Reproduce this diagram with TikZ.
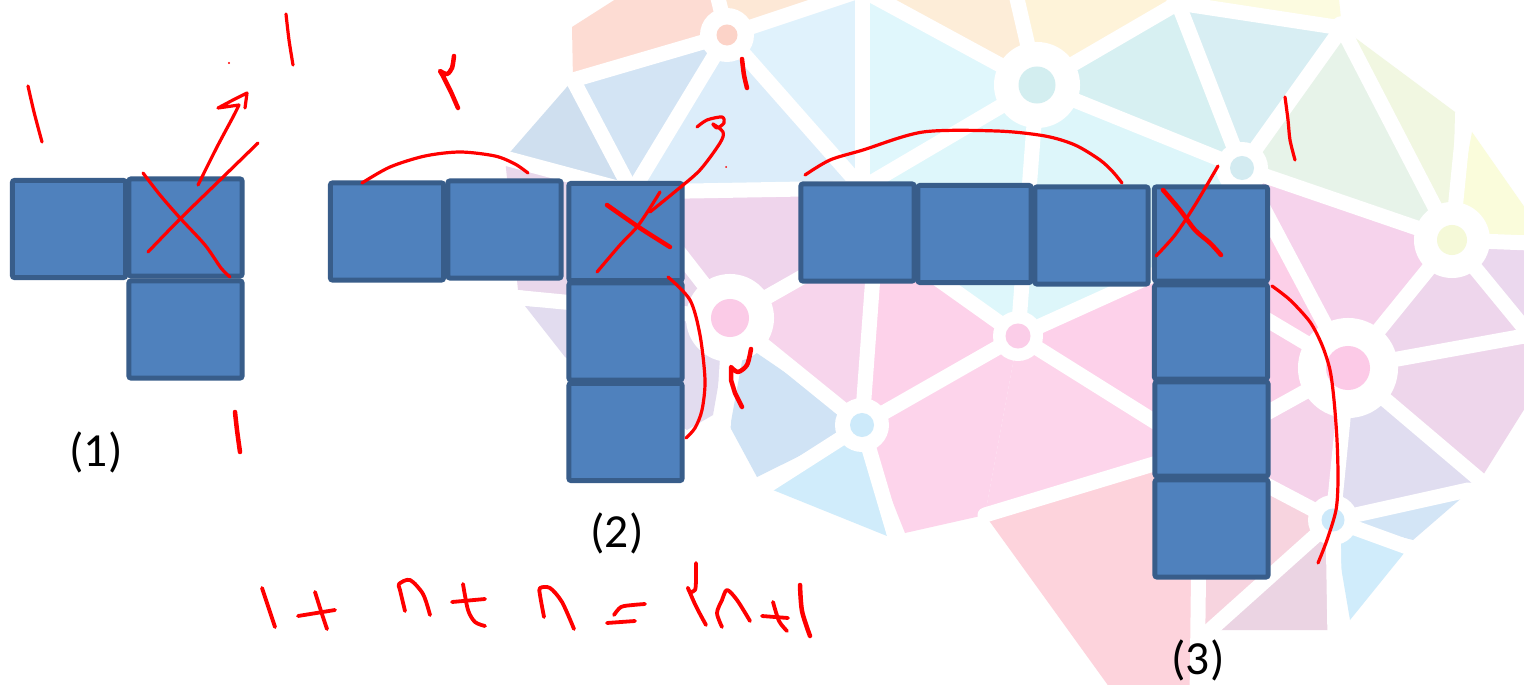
\documentclass[tikz,border=0pt]{standalone}
\usepackage{fontspec}
\setmainfont{Carlito}
\definecolor{sqfill}{HTML}{4F81BD}
\definecolor{sqline}{HTML}{385D8A}
\definecolor{inkred}{HTML}{FF0000}
\definecolor{cSalmon}{HTML}{FDDCD3}
\definecolor{cPeach}{HTML}{FDE8D6}
\definecolor{cPeachB}{HTML}{FDEDD8}
\definecolor{cYelPeach}{HTML}{FEF3D9}
\definecolor{cPaleYel}{HTML}{FCFBE0}
\definecolor{cBlueA}{HTML}{CFDFEF}
\definecolor{cBlueB}{HTML}{D3E4F4}
\definecolor{cBlueC}{HTML}{DCEDFA}
\definecolor{cCyanA}{HTML}{E0F2FC}
\definecolor{cCyanB}{HTML}{E0F7FC}
\definecolor{cCyanC}{HTML}{DEF7FB}
\definecolor{cTealA}{HTML}{D7F0F2}
\definecolor{cTealB}{HTML}{D8EEF3}
\definecolor{cCyanD}{HTML}{DDF6FA}
\definecolor{cGreen}{HTML}{E7F3E9}
\definecolor{cYG}{HTML}{F1F7E1}
\definecolor{cYel}{HTML}{FAFCDB}
\definecolor{cPinkA}{HTML}{F6D3EC}
\definecolor{cPinkB}{HTML}{FCCFE8}
\definecolor{cLavA}{HTML}{EBD8EE}
\definecolor{cLavB}{HTML}{EED6EC}
\definecolor{cLavC}{HTML}{EED6EB}
\definecolor{cLavBlue}{HTML}{E0DDF0}
\definecolor{cLBA}{HTML}{D3E5F6}
\definecolor{cLBB}{HTML}{D0ECFB}
\definecolor{cMauve}{HTML}{EBD4E3}
\definecolor{cRose}{HTML}{F7D4DF}
\definecolor{cPinkC}{HTML}{F5D3EA}
\definecolor{cPinkD}{HTML}{FACFE8}
\definecolor{cPinkE}{HTML}{FDD1EA}
\definecolor{cPinkF}{HTML}{FDD5EB}
\definecolor{cRed}{HTML}{FDD3DC}
\definecolor{cPinkG}{HTML}{FDD4EB}
\definecolor{cPinkH}{HTML}{F7D5EC}
\definecolor{cPinkI}{HTML}{FDD2EA}
\definecolor{cPinkL}{HTML}{EFD5EC}
\definecolor{cBlueD}{HTML}{D0E3F5}
\definecolor{cLavD}{HTML}{E9D7EB}
\definecolor{cLavE}{HTML}{E2DCEF}
\definecolor{iA}{HTML}{FCD3C8}
\definecolor{iB}{HTML}{D3EEF0}
\definecolor{iC}{HTML}{D3EBF1}
\definecolor{iD}{HTML}{F5F9D8}
\definecolor{iE}{HTML}{FBCBE7}
\definecolor{iF}{HTML}{FBCDE8}
\definecolor{iG}{HTML}{FCCAE7}
\definecolor{iH}{HTML}{CDEAFA}
\definecolor{iI}{HTML}{CDE9FA}
\begin{document}
\begin{tikzpicture}[x=0.01cm,y=-0.01cm,
  sq/.style={draw=sqline, fill=sqfill, line width=0.05cm, rounded corners=0.02cm,
             minimum width=1.13cm, minimum height=0.97cm, inner sep=0pt},
  sqv/.style={sq, minimum height=0.94cm},
  ink/.style={draw=inkred, line width=0.032cm, line cap=round, line join=round},
  inkb/.style={ink, line width=0.045cm},
  inke/.style={ink, line width=0.038cm},
  web/.style={draw=white, line width=0.15cm, line cap=round},
  lbl/.style={font=\fontsize{13.5}{16}\selectfont, inner sep=0pt}]
\useasboundingbox (0,0) rectangle (1524,685);
\fill[white] (0,0) rectangle (1524,685);
% ---------- faded low-poly background ----------
\begin{scope}
\clip (0,0) rectangle (1524,685);
\coordinate (A) at (727,35);
\coordinate (T1) at (862,-10);
\coordinate (TB) at (1015,-10);
\coordinate (B) at (1037,85);
\coordinate (T2) at (1178,3);
\coordinate (R1) at (1342,28);
\coordinate (C) at (1242,168);
\coordinate (D) at (1452,240);
\coordinate (J0) at (632,192);
\coordinate (J1) at (862,188);
\coordinate (J2) at (876,235);
\coordinate (E) at (730,318);
\coordinate (F) at (1018,336);
\coordinate (L) at (1175,265);
\coordinate (G) at (1348,368);
\coordinate (K) at (1200,450);
\coordinate (H) at (862,425);
\coordinate (I) at (1333,520);
\coordinate (M) at (985,515);
\coordinate (P1) at (505,158);
\coordinate (P2) at (573,80);
\coordinate (Q2) at (1455,112);
\coordinate (Q3) at (1472,132);
\coordinate (Q4) at (1530,215);
\coordinate (RE1) at (1530,243);
\coordinate (RE2) at (1530,335);
\coordinate (RE3) at (1530,400);
\coordinate (Q5) at (1480,480);
\coordinate (Q6) at (1465,495);
\coordinate (Q7) at (1413,540);
\coordinate (Q8) at (1405,552);
\coordinate (Q9) at (1350,620);
\coordinate (Q10) at (1335,630);
\coordinate (Q11) at (1215,630);
\coordinate (BT1) at (1198,695);
\coordinate (BT2) at (1115,695);
\coordinate (W1) at (905,533);
\coordinate (W1b) at (887,536);
\coordinate (W2) at (773,490);
\coordinate (W3) at (757,477);
\coordinate (W4) at (730,427);
\coordinate (W5) at (713,415);
\coordinate (W6) at (687,430);
\coordinate (W7) at (565,357);
\coordinate (W8) at (525,306);
\coordinate (W9) at (518,290);
% faces
\fill[cSalmon] (572,27) -- (630,-10) -- (712,-10) -- (A) -- (P2) -- cycle;
\fill[cPeach] (712,-10) -- (T1) -- (A) -- cycle;
\fill[cPeachB] (T1) -- (TB) -- (B) -- cycle;
\fill[cYelPeach] (TB) -- (1172,-10) -- (T2) -- (B) -- cycle;
\fill[cPaleYel] (T2) -- (1185,-10) -- (1338,-10) -- (R1) -- cycle;
\fill[cBlueA] (P1) -- (P2) -- (J0) -- cycle;
\fill[cBlueB] (P2) -- (A) -- (J0) -- cycle;
\fill[cBlueC] (A) -- (J1) -- (J0) -- cycle;
\fill[cCyanA] (A) -- (T1) -- (J1) -- cycle;
\fill[cCyanB] (T1) -- (B) -- (J1) -- cycle;
\fill[cCyanC] (B) -- (F) -- (J2) -- (J1) -- cycle;
\fill[cTealA] (B) -- (T2) -- (C) -- cycle;
\fill[cTealB] (T2) -- (R1) -- (C) -- cycle;
\fill[cCyanD] (B) -- (C) -- (L) -- (F) -- cycle;
\fill[cGreen] (C) -- (R1) -- (D) -- cycle;
\fill[cYG] (R1) -- (Q2) -- (D) -- cycle;
\fill[cYel] (Q3) -- (Q4) -- (RE1) -- (D) -- cycle;
\fill[cPinkA] (C) -- (D) -- (G) -- cycle;
\fill[cPinkB] (C) -- (G) -- (L) -- cycle;
\fill[cLavA] (D) -- (RE1) -- (RE2) -- cycle;
\fill[cLavB] (D) -- (RE2) -- (G) -- cycle;
\fill[cLavC] (G) -- (RE2) -- (RE3) -- (Q5) -- cycle;
\fill[cLavBlue] (G) -- (Q5) -- (I) -- cycle;
\fill[cLBA] (I) -- (Q6) -- (Q7) -- cycle;
\fill[cLBB] (I) -- (Q8) -- (Q9) -- cycle;
\fill[cMauve] (I) -- (Q10) -- (Q11) -- cycle;
\fill[cRose] (K) -- (I) -- (Q11) -- (1200,632) -- cycle;
\fill[cPinkC] (G) -- (I) -- (K) -- cycle;
\fill[cPinkD] (L) -- (G) -- (K) -- cycle;
\fill[cPinkE] (F) -- (L) -- (K) -- cycle;
\fill[cPinkF] (F) -- (K) -- (M) -- cycle;
\fill[cRed] (M) -- (K) -- (BT1) -- (BT2) -- cycle;
\fill[cPinkG] (H) -- (F) -- (M) -- (W1) -- cycle;
\fill[cPinkH] (E) -- (J2) -- (H) -- cycle;
\fill[cPinkI] (J2) -- (F) -- (H) -- cycle;
\fill[cPinkL] (J0) -- (J1) -- (J2) -- (E) -- cycle;
\fill[cBlueD] (745,345) -- (H) -- (W3) -- (W4) -- cycle;
\fill[cLBB] (H) -- (W2) -- (W1b) -- cycle;
\fill[cLavD] (P1) -- (J0) -- (E) -- (W9) -- cycle;
\fill[cLavE] (E) -- (W8) -- (W7) -- (W6) -- (W5) -- cycle;
% white web lines
\draw[web] (A) -- (716,-10);
\draw[web] (A) -- (T1);
\draw[web] (A) -- (P2);
\draw[web] (A) -- (J0);
\draw[web] (A) -- (J1);
\draw[web] (T1) -- (J1);
\draw[web] (T1) -- (B);
\draw[web] (B) -- (TB);
\draw[web] (B) -- (T2);
\draw[web] (B) -- (J1);
\draw[web] (B) -- (C);
\draw[web] (B) -- (F);
\draw[web] (T2) -- (C);
\draw[web] (T2) -- (R1);
\draw[web] (T2) -- (1180,-10);
\draw[web] (R1) -- (C);
\draw[web] (R1) -- (D);
\draw[web] (C) -- (D);
\draw[web] (C) -- (G);
\draw[web] (C) -- (L);
\draw[web] (D) -- (RE1);
\draw[web] (D) -- (RE2);
\draw[web] (D) -- (G);
\draw[web] (D) -- (1464,120);
\draw[web] (G) -- (RE2);
\draw[web] (G) -- (Q5);
\draw[web] (G) -- (I);
\draw[web] (G) -- (K);
\draw[web] (G) -- (L);
\draw[web] (J0) -- (P1);
\draw[web] (J0) -- (P2);
\draw[web] (J0) -- (J1);
\draw[web] (J0) -- (E);
\draw[web] (J1) -- (J2);
\draw[web] (E) -- (J2);
\draw[web] (E) -- (512,297);
\draw[web] (E) -- (722,445);
\draw[web] (E) -- (H);
\draw[web] (J2) -- (H);
\draw[web] (J2) -- (F);
\draw[web] (H) -- (F);
\draw[web] (H) -- (765,487);
\draw[web] (H) -- (896,540);
\draw[web] (F) -- (K);
\draw[web] (F) -- (L);
\draw[web] (K) -- (I);
\draw[web] (K) -- (M);
\draw[web] (K) -- (L);
\draw[web] (K) -- (1197,700);
\draw[web] (I) -- (1468,490);
\draw[web] (I) -- (1410,548);
\draw[web] (I) -- (1335,640);
\draw[web] (I) -- (1208,632);
% hubs
\foreach \p/\r in {A/0.27cm, B/0.43cm, C/0.26cm, D/0.38cm, E/0.44cm, F/0.25cm, G/0.50cm, H/0.27cm, I/0.25cm,
                   J0/0.1cm, J1/0.1cm, J2/0.1cm, K/0.1cm, L/0.1cm, T2/0.12cm, R1/0.12cm}
  \fill[white] (\p) circle (\r);
\fill[iA] (A) circle (0.105cm);
\fill[iB] (B) circle (0.185cm);
\fill[iC] (C) circle (0.12cm);
\fill[iD] (D) circle (0.15cm);
\fill[iE] (E) circle (0.19cm);
\fill[iF] (F) circle (0.125cm);
\fill[iG] (G) circle (0.22cm);
\fill[iH] (H) circle (0.12cm);
\fill[iI] (I) circle (0.115cm);
\end{scope}
% ---------- blue squares ----------
\node[sq] (s1a) at (69,229) {};
\node[sq] (s1b) at (185.5,227.5) {};
\node[sq] (s1c) at (185.5,329.5) {};
\node[sq] (s2a) at (387,231.5) {};
\node[sq] (s2b) at (504.5,229.5) {};
\node[sq] (s2c) at (625.5,232) {};
\node[sq] (s2d) at (625.5,331.5) {};
\node[sq] (s2e) at (625.5,432) {};
\node[sq] (s3a) at (857.5,232.5) {};
\node[sq] (s3b) at (974.5,234) {};
\node[sq] (s3c) at (1091.5,235.5) {};
\node[sqv] (s3d) at (1211,234) {};
\node[sqv] (s3e) at (1211,332) {};
\node[sqv] (s3f) at (1211.5,429) {};
\node[sq] (s3g) at (1211.5,528.5) {};
% ---------- labels ----------
\node[lbl] (l1) at (96,452) {(1)};
\node[lbl] (l2) at (617,533) {(2)};
\node[lbl] (l3) at (1198,660) {(3)};
% ---------- red handwriting ----------
% figure 1
\draw[ink] plot[smooth] coordinates {(28,86) (34,112) (42,142)};
\draw[ink] plot[smooth] coordinates {(286,14) (289,40) (293,65)};
\fill[inkred] (229,63) circle (0.012cm);
\draw[ink] plot[smooth] coordinates {(198,185) (217,147) (233,117) (239,105)} -- (218,108) -- (233,100) -- (247,93) -- (245,108);
\draw[ink] plot[smooth] coordinates {(143,173) (160,195) (180,218) (205,245) (221,268) (230,277)};
\draw[ink] plot[smooth] coordinates {(148,252) (180,219) (220,180) (258,143)};
\draw[inkb] plot[smooth] coordinates {(235,412) (237,430) (240,452)};
% figure 2
\draw[ink] plot[smooth] coordinates {(362,183) (390,167) (425,156) (460,152) (495,156) (515,164) (528,173)};
\draw[inkb] plot[smooth] coordinates {(454,56) (452,68) (447,74) (440,71)} -- (443,76) -- (451,92) -- (458,108);
\draw[inkb] plot[smooth] coordinates {(742,59) (744,75) (747,88)};
\draw[ink] plot[smooth] coordinates {(697,127) (707,120) (722,117) (724,123) (717,128) (713,124) (723,132) (720,143) (700,170) (677,190) (650,212)};
\draw[inkb] plot[smooth] coordinates {(607,205) (640,228) (670,247)};
\draw[ink] plot[smooth] coordinates {(597,272) (620,245) (637,227) (650,208) (660,192)};
\fill[inkred] (726,167) circle (0.01cm);
\draw[ink] plot[smooth] coordinates {(668,277) (690,300) (700,335) (705,380) (702,410) (695,428) (686,438)};
\draw[inkb] plot[smooth] coordinates {(751,349) (747,365) (738,372) (731,367)} -- (731,380) -- (735,393) -- (742,407);
% figure 3
\draw[ink] plot[smooth] coordinates {(805,175) (830,160) (863,150) (923,132) (997,131) (1045,136) (1075,145) (1100,160) (1113,172) (1122,183)};
\draw[ink] plot[smooth] coordinates {(1285,97) (1288,120) (1290,140) (1295,160)};
\draw[ink] plot[smooth] coordinates {(1218,166) (1195,205) (1175,235) (1156,256)};
\draw[inkb] plot[smooth] coordinates {(1163,190) (1180,210) (1195,230) (1210,243) (1221,255)};
\draw[ink] plot[smooth] coordinates {(1272,286) (1290,300) (1310,322) (1322,345) (1330,370) (1334,400) (1337,440) (1338,480) (1336,510) (1327,540) (1318,563)};
% equation 1 + n + n = 2n + 1
\draw[inke] plot[smooth] coordinates {(262,588) (268,606) (275,627)};
\draw[inke] (298,616) -- (335,610);
\draw[inke] plot[smooth] coordinates {(315,592) (321,611) (327,629)};
\draw[inke] plot[smooth] coordinates {(405,611) (400,590) (399,584) (410,580) (423,594) (430,615)};
\draw[inke] (452,602) -- (485,599);
\draw[inke] plot[smooth] coordinates {(463,584) (468,610) (475,622) (485,626)};
\draw[inke] plot[smooth] coordinates {(544,617) (540,595) (540,588) (550,588) (562,602) (574,629)};
\draw[inke] plot[smooth] coordinates {(614,615) (621,607) (633,605) (645,604)};
\draw[inke] (607,623) -- (635,621);
\draw[inke] plot[smooth] coordinates {(696,563) (696,580) (695,590) (690,592) (688,588) (694,602) (700,614) (706,625)};
\draw[inke] plot[smooth] coordinates {(722,627) (717,613) (722,600) (727,590) (737,600) (750,621)};
\draw[inke] (762,616) -- (788,618);
\draw[inke] plot[smooth] coordinates {(773,602) (779,621) (787,631)};
\draw[inkb] plot[smooth] coordinates {(800,585) (802,611) (810,636)};
\end{tikzpicture}
\end{document}
